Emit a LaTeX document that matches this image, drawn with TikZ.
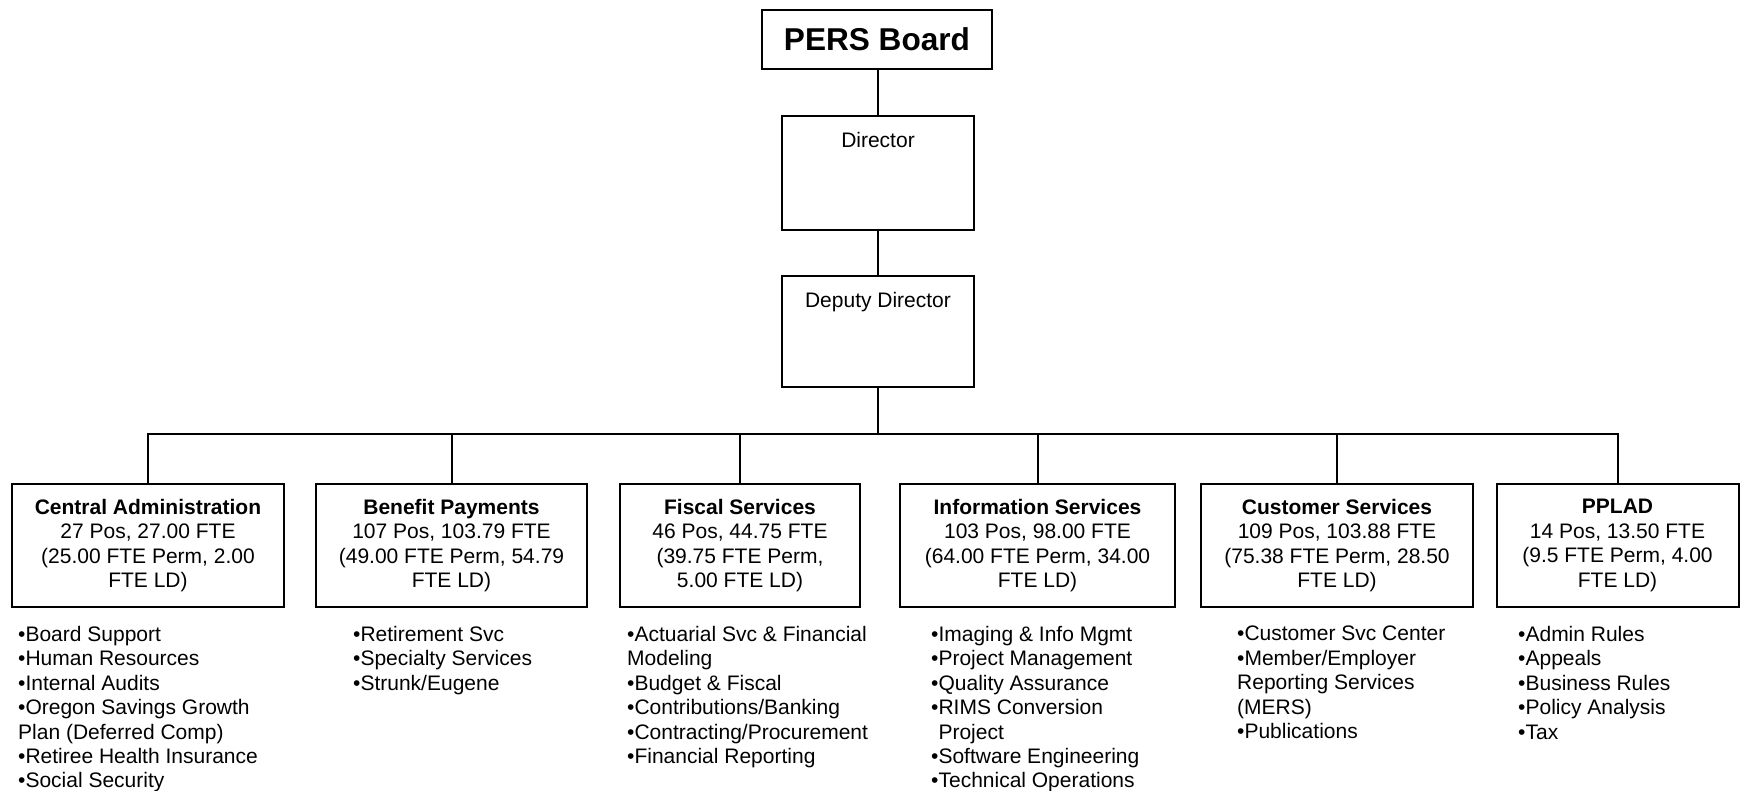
\documentclass[tikz,border=0pt]{standalone}
\usepackage{fontspec}
\setmainfont{Liberation Sans}
\tikzset{
  box/.style={draw, line width=2pt, inner sep=0pt, align=center, font=\fontsize{21}{24.5}\selectfont},
  boxtxt/.style={anchor=base, inner sep=0pt, font=\fontsize{21}{24.5}\selectfont},
  list/.style={anchor=north west, inner sep=0pt, align=left, font=\fontsize{21}{24.4}\selectfont},
  conn/.style={line width=2pt},
}
\begin{document}
\begin{tikzpicture}[x=1pt, y=-1pt]
\useasboundingbox (0,0) rectangle (1740,791);
% top chain
\node[box, minimum width=230, minimum height=59, font=\fontsize{31.6}{36}\selectfont\bfseries] (board) at (877,39.5) {PERS Board};
\node[box, minimum width=192, minimum height=114] (dir) at (878,173) {};
\node[boxtxt] (dirt) at (878,147.5) {Director};
\node[box, minimum width=192, minimum height=111] (dep) at (878,331.5) {};
\node[boxtxt] (dept) at (878,307.5) {Deputy Director};
% divisions
\node[box, minimum width=272, minimum height=123] (ca) at (148,545.5) {\textbf{Central Administration}\\27 Pos, 27.00 FTE\\(25.00 FTE Perm, 2.00\\FTE LD)};
\node[box, minimum width=271, minimum height=123] (bp) at (451.5,545.5) {\textbf{Benefit Payments}\\107 Pos, 103.79 FTE\\(49.00 FTE Perm, 54.79\\FTE LD)};
\node[box, minimum width=240, minimum height=123] (fs) at (740,545.5) {\textbf{Fiscal Services}\\46 Pos, 44.75 FTE\\(39.75 FTE Perm,\\5.00 FTE LD)};
\node[box, minimum width=275, minimum height=123] (is) at (1037.5,545.5) {\textbf{Information Services}\\103 Pos, 98.00 FTE\\(64.00 FTE Perm, 34.00\\FTE LD)};
\node[box, minimum width=272, minimum height=123] (cs) at (1337,545.5) {\textbf{Customer Services}\\109 Pos, 103.88 FTE\\(75.38 FTE Perm, 28.50\\FTE LD)};
\node[box, minimum width=242, minimum height=123] (pp) at (1617.5,545.5) {\textbf{PPLAD}\\14 Pos, 13.50 FTE\\(9.5 FTE Perm, 4.00\\FTE LD)};
% connectors
\coordinate (bus) at (878,434);
\draw[conn] (dir.north) -- (dir.north |- board.south);
\draw[conn] (dir.south) -- (dep.north);
\draw[conn] (dep.south) -- (bus);
\draw[conn] (ca.north) -- (ca.north |- bus) -- (pp.north |- bus) -- (pp.north);
\draw[conn] (bp.north) -- (bp.north |- bus);
\draw[conn] (fs.north) -- (fs.north |- bus);
\draw[conn] (is.north) -- (is.north |- bus);
\draw[conn] (cs.north) -- (cs.north |- bus);
% lists
\node[list] (cal) at (18,626) {•Board Support\\•Human Resources\\•Internal Audits\\•Oregon Savings Growth\\Plan (Deferred Comp)\\•Retiree Health Insurance\\•Social Security};
\node[list] (bpl) at (353,626) {•Retirement Svc\\•Specialty Services\\•Strunk/Eugene};
\node[list] (fsl) at (627,626) {•Actuarial Svc \& Financial\\Modeling\\•Budget \& Fiscal\\•Contributions/Banking\\•Contracting/Procurement\\•Financial Reporting};
\node[list] (isl) at (931,626) {•Imaging \& Info Mgmt\\•Project Management\\•Quality Assurance\\•RIMS Conversion\\\phantom{•}Project\\•Software Engineering\\•Technical Operations};
\node[list] (csl) at (1237,626) {•Customer Svc Center\\•Member/Employer\\Reporting Services\\(MERS)\\•Publications};
\node[list] (ppl) at (1518,626) {•Admin Rules\\•Appeals\\•Business Rules\\•Policy Analysis\\•Tax};
\end{tikzpicture}
\end{document}
